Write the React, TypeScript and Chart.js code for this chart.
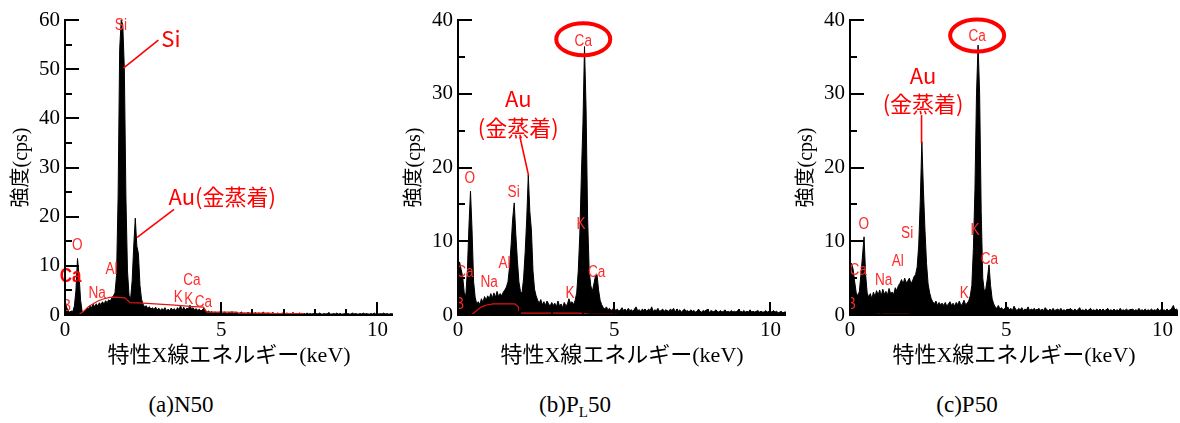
import React, { useEffect, useRef } from 'react';
import { Chart, registerables } from 'chart.js';

Chart.register(...registerables);

// ---------- data ----------
const E_STEP = 0.05; // keV per channel
const X_MAX = 10.5;
const X_TICKS = [0, 5, 10];
const X_MINOR_TICKS = [1, 2, 3, 4, 6, 7, 8, 9];
const Y_TICKS_A = [0, 10, 20, 30, 40, 50, 60];
const Y_MINOR_A = [5, 15, 25, 35, 45, 55];
const Y_TICKS_BC = [0, 10, 20, 30, 40];
const Y_MINOR_BC = [5, 15, 25, 35];

const X_TITLE = '特性X線エネルギー(keV)';
const Y_TITLE = '強度(cps)';

// (a) N50 counts per channel, 0.00 .. 10.50 keV
const SPECTRUM_A = [
  3.0, 1.6, 0.9, 0.6, 0.8, 0.7, 1.8, 5.0, 11.5, 8.0, 3.0, 0.6, 0.5, 0.9, 1.4, 1.2, 1.9, 1.5, 2.2, 1.7,
  2.3, 1.8, 2.5, 2.1, 2.7, 2.2, 2.9, 2.5, 3.1, 2.8, 3.5, 3.9, 4.5, 8.0, 24, 54, 60, 59, 50, 24,
  9.0, 4.0, 3.3, 7.0, 14, 19.7, 14, 12.5, 6.0, 3.2, 2.2, 1.6, 1.9, 1.3, 1.7, 1.2, 1.5, 1.1, 1.6, 1.0,
  1.4, 0.9, 1.3, 1.0, 1.5, 0.8, 1.2, 0.9, 1.4, 1.0, 1.3, 0.8, 1.5, 1.1, 1.9, 0.9, 1.6, 1.0, 1.4, 1.2,
  2.0, 1.2, 1.5, 1.0, 1.3, 0.9, 1.2, 0.8, 1.1, 1.4, 0.9, 0.6, 0.8, 0.5, 0.7, 0.4, 0.6, 0.5, 0.4, 0.6,
  0.5, 0.3, 0.6, 0.4, 0.3, 0.5, 0.4, 0.7, 0.3, 0.4, 0.5, 0.3, 0.4, 0.6, 0.3, 0.4, 0.3, 0.5, 0.4, 0.3,
  0.4, 0.3, 0.5, 0.2, 0.4, 0.3, 0.3, 0.6, 0.2, 0.3, 0.4, 0.2, 0.3, 0.5, 0.3, 0.2, 0.4, 0.3, 0.2, 0.4,
  0.3, 0.2, 0.4, 0.3, 0.2, 0.3, 0.5, 0.2, 0.3, 0.2, 0.4, 0.3, 0.2, 0.3, 0.2, 0.4, 0.2, 0.3, 0.2, 0.3,
  0.2, 0.3, 0.2, 0.4, 0.2, 0.2, 0.3, 0.2, 0.3, 0.5, 0.2, 0.2, 0.3, 0.2, 0.4, 0.2, 0.3, 0.2, 0.2, 0.3,
  0.2, 0.3, 0.2, 0.2, 0.4, 0.2, 0.3, 0.2, 0.2, 0.3, 0.2, 0.4, 0.2, 0.3, 0.2, 0.2, 0.3, 0.2, 0.4, 0.2,
  0.3, 0.2, 0.3, 0.2, 0.4, 0.2, 0.3, 0.2, 0.2, 0.3, 0.2,
];

// (b) PL50
const SPECTRUM_B = [
  6.8, 7.2, 6.2, 5.2, 3.0, 2.6, 6.0, 12, 16.8, 11.5, 4.5, 2.4, 1.5, 1.8, 1.4, 2.2, 1.7, 2.5, 2.0, 2.6,
  2.2, 2.9, 2.3, 3.0, 2.4, 3.2, 2.5, 2.9, 2.6, 3.1, 3.4, 3.8, 4.5, 6.5, 9.5, 13, 15.2, 11, 7.5, 4.5,
  3.2, 3.0, 5.0, 8.5, 13, 19, 14, 11.5, 6.0, 3.5, 2.6, 2.0, 1.6, 2.1, 1.4, 1.8, 1.3, 1.9, 1.5, 1.2,
  1.7, 1.3, 1.6, 1.1, 1.9, 1.2, 1.5, 1.0, 1.7, 1.3, 1.4, 2.2, 1.6, 1.8, 1.4, 2.0, 3.0, 6.0, 11, 19,
  26, 36.4, 28, 13, 6.0, 4.0, 3.2, 4.2, 5.3, 5.5, 3.4, 2.0, 1.4, 1.0, 0.8, 1.1, 0.7, 0.9, 0.6, 0.8,
  0.9, 0.6, 0.8, 0.5, 0.7, 1.0, 0.6, 0.8, 0.5, 0.9, 0.6, 0.7, 0.5, 0.8, 1.1, 0.6, 0.7, 0.5, 0.8, 0.6,
  0.7, 0.5, 0.8, 0.6, 1.1, 0.5, 0.7, 0.6, 0.9, 0.5, 0.6, 0.8, 0.5, 0.7, 0.6, 0.5, 0.8, 0.6, 0.9, 0.5,
  0.6, 0.5, 0.7, 0.4, 0.6, 0.8, 0.5, 0.6, 0.4, 0.7, 0.5, 0.6, 0.4, 0.5, 0.8, 0.5, 0.4, 0.6, 0.5, 0.7,
  0.5, 0.4, 0.6, 0.5, 0.4, 0.7, 0.5, 0.4, 0.6, 0.4, 0.5, 0.7, 0.4, 0.5, 0.4, 0.6, 0.4, 0.5, 0.4, 0.6,
  0.4, 0.5, 0.4, 0.6, 0.4, 0.5, 0.4, 0.7, 0.4, 0.5, 0.4, 0.5, 0.6, 0.4, 0.5, 0.4, 0.4, 0.6, 0.4, 0.5,
  0.5, 0.4, 0.6, 0.4, 0.5, 0.3, 0.4, 0.5, 0.3, 0.4, 0.4,
];

// (c) P50
const SPECTRUM_C = [
  6.5, 7.0, 6.2, 4.5, 3.0, 2.6, 3.2, 5.5, 8.0, 10.6, 5.5, 3.0, 2.4, 2.9, 2.2, 3.1, 2.5, 3.3, 2.7, 3.4,
  2.6, 3.5, 2.8, 3.2, 2.7, 3.6, 2.9, 3.1, 2.8, 3.7, 3.3, 4.0, 4.3, 4.8, 4.2, 5.0, 4.4, 4.6, 5.0, 4.3,
  4.6, 5.2, 5.5, 6.5, 9.5, 15.5, 23.5, 17, 11.5, 7.0, 4.2, 3.0, 2.2, 1.8, 1.5, 1.9, 1.3, 1.7, 1.4, 1.6,
  1.3, 1.7, 1.2, 1.5, 1.8, 1.3, 1.6, 1.2, 1.7, 1.4, 1.9, 1.3, 1.5, 2.0, 1.4, 1.6, 1.9, 2.6, 4.0, 9.0,
  17, 30, 36.6, 30, 14, 5.0, 3.2, 3.6, 5.0, 6.8, 4.0, 2.2, 1.5, 1.1, 0.9, 1.3, 0.8, 1.0, 0.7, 0.9,
  0.8, 1.1, 0.7, 0.9, 0.6, 1.2, 0.8, 0.6, 0.9, 0.7, 1.0, 0.6, 0.8, 0.7, 1.1, 0.6, 0.8, 0.7, 0.9, 0.6,
  0.7, 0.9, 0.6, 0.8, 0.6, 1.0, 0.7, 0.6, 0.8, 0.6, 0.9, 0.6, 0.7, 0.8, 0.6, 0.9, 0.6, 0.7, 0.6, 0.8,
  0.6, 0.9, 0.7, 0.6, 0.8, 0.6, 0.7, 1.0, 0.6, 0.7, 0.6, 0.8, 0.6, 0.7, 0.9, 0.6, 0.7, 0.6, 0.8, 0.6,
  0.7, 0.6, 0.8, 0.6, 0.7, 0.9, 0.6, 0.7, 0.6, 0.8, 0.6, 0.7, 0.6, 0.9, 0.6, 0.7, 0.6, 0.8, 0.6, 0.7,
  0.6, 0.8, 0.6, 0.7, 0.6, 0.9, 0.6, 0.7, 0.6, 0.8, 0.6, 0.7, 0.6, 0.8, 0.6, 0.7, 0.6, 0.9, 0.6, 0.7,
  0.6, 0.7, 0.6, 0.8, 0.6, 0.7, 0.9, 1.3, 0.7, 0.8, 0.6,
];

// fitted background (red) [keV, cps]
const BKG_A = [
  [0.45, 0.1], [0.6, 0.8], [0.75, 1.7], [0.9, 2.3], [1.07, 2.9], [1.25, 3.3], [1.44, 3.6], [1.6, 3.65],
  [1.92, 3.5], [2.08, 2.5], [2.5, 2.4], [3.0, 2.2], [3.52, 2.0], [4.0, 1.75], [4.43, 1.6], [4.54, 0.6],
  [5.5, 0.6], [5.55, 0.4], [6.56, 0.4], [6.6, 0.3], [7.65, 0.3],
];
const BKG_B = [
  [0.44, 0.05], [0.6, 0.6], [0.75, 1.1], [0.92, 1.36], [1.13, 1.5], [1.82, 1.5], [1.93, 1.1], [1.98, 0.1],
  [2.0, 0.25], [3.9, 0.25], [4.2, 0.1], [5.1, 0.1],
];
const BKG_C = [[0.85, 0.1], [1.9, 0.1]];

// peak labels [text, keV, cps]
const PEAK_LABELS_A = [
  ['Si', 1.79, 58.9], ['O', 0.39, 14.2], ['Al', 1.49, 9.3], ['Na', 1.03, 4.4], ['Ca', 4.06, 6.95],
  ['K', 3.63, 3.6], ['K', 3.96, 3.05], ['Ca', 4.43, 2.5], ['B', 0.05, 1.8],
];
const PEAK_LABELS_B = [
  ['Ca', 4.01, 37.1], ['O', 0.38, 18.5], ['Si', 1.78, 16.6], ['Al', 1.49, 7.0], ['Na', 1.0, 4.4],
  ['K', 3.94, 12.2], ['K', 3.59, 2.9], ['Ca', 4.44, 5.7], ['Ca', 0.22, 5.7], ['B', 0.05, 1.4],
];
const PEAK_LABELS_C = [
  ['Ca', 4.07, 37.8], ['O', 0.44, 12.3], ['Si', 1.83, 11.1], ['Al', 1.53, 7.2], ['Na', 1.08, 4.6],
  ['K', 4.0, 11.4], ['K', 3.66, 2.85], ['Ca', 4.46, 7.5], ['Ca', 0.26, 6.0], ['B', 0.04, 1.4],
];

// callouts [text, keV, cps]
const CALLOUTS_A = [['Si', 3.39, 56.3], ['Au(金蒸着)', 5.03, 24.1]];
const CALLOUTS_B = [['Au', 1.93, 29.3], ['(金蒸着)', 1.93, 25.4]];
const CALLOUTS_C = [['Au', 2.34, 32.5], ['(金蒸着)', 2.34, 28.6]];
const BOLD_LABELS_A = [['Ca', 0.18, 7.9]];

// leader lines [keV1, cps1, keV2, cps2]
const LEADERS_A = [[2.99, 55.9, 1.87, 50.2], [3.49, 21.5, 2.31, 15.8]];
const LEADERS_B = [[1.98, 24.2, 2.26, 18.9]];
const LEADERS_C = [[2.29, 27.1, 2.29, 23.3]];

// circled peaks [keV, cps]
const CIRCLES_B = [[4.01, 37.4]];
const CIRCLES_C = [[4.07, 37.9]];

// ---------- styles ----------
const SERIF = '"Liberation Serif", "Noto Sans CJK JP", serif';
const RED = '#ff0000';
const LABEL_RED = '#ff2a2a';
const PANEL_W = 395;
const PANEL_H = 380;

type PanelCfg = {
  id: string;
  left: number;
  spectrum: number[];
  bkg: number[][];
  yMax: number;
  yTicks: number[];
  yMinor: number[];
  labels: any[];
  callouts: any[];
  bold: any[];
  leaders: number[][];
  circles: number[][];
};

const PANELS: PanelCfg[] = [
  { id: 'a', left: 0, spectrum: SPECTRUM_A, bkg: BKG_A, yMax: 60, yTicks: Y_TICKS_A, yMinor: Y_MINOR_A,
    labels: PEAK_LABELS_A, callouts: CALLOUTS_A, bold: BOLD_LABELS_A, leaders: LEADERS_A, circles: [] },
  { id: 'b', left: 393, spectrum: SPECTRUM_B, bkg: BKG_B, yMax: 40, yTicks: Y_TICKS_BC, yMinor: Y_MINOR_BC,
    labels: PEAK_LABELS_B, callouts: CALLOUTS_B, bold: [], leaders: LEADERS_B, circles: CIRCLES_B },
  { id: 'c', left: 785, spectrum: SPECTRUM_C, bkg: BKG_C, yMax: 40, yTicks: Y_TICKS_BC, yMinor: Y_MINOR_BC,
    labels: PEAK_LABELS_C, callouts: CALLOUTS_C, bold: [], leaders: LEADERS_C, circles: CIRCLES_C },
];

function makeOverlay(cfg: PanelCfg) {
  return {
    id: 'overlay_' + cfg.id,
    afterDatasetsDraw(chart: any) {
      const { ctx, chartArea: ca, scales } = chart;
      const px = (e: number) => scales.x.getPixelForValue(e);
      const py = (v: number) => scales.y.getPixelForValue(v);
      ctx.save();
      ctx.textAlign = 'center';
      ctx.textBaseline = 'middle';
      // small peak labels (clipped to plot area)
      ctx.save();
      ctx.beginPath();
      ctx.rect(ca.left, ca.top - 12, ca.right - ca.left, ca.bottom - ca.top + 12);
      ctx.clip();
      ctx.fillStyle = LABEL_RED;
      ctx.font = '16px "Liberation Sans", sans-serif';
      for (const [t, e, v] of cfg.labels) {
        ctx.save();
        ctx.translate(px(e), py(v));
        ctx.scale(0.85, 1);
        ctx.fillText(t, 0, 0);
        ctx.restore();
      }
      ctx.restore();
      // bold labels
      ctx.fillStyle = RED;
      ctx.font = 'bold 20px "Liberation Sans", sans-serif';
      for (const [t, e, v] of cfg.bold) {
        ctx.save();
        ctx.translate(px(e), py(v));
        ctx.scale(0.85, 1);
        ctx.fillText(t, 0, 0);
        ctx.restore();
      }
      // callouts
      ctx.font = '22px "Noto Sans CJK JP", sans-serif';
      for (const [t, e, v] of cfg.callouts) ctx.fillText(t, px(e), py(v));
      // leaders
      ctx.strokeStyle = RED;
      ctx.lineWidth = 1.6;
      for (const [e1, v1, e2, v2] of cfg.leaders) {
        ctx.beginPath();
        ctx.moveTo(px(e1), py(v1));
        ctx.lineTo(px(e2), py(v2));
        ctx.stroke();
      }
      // circles
      ctx.lineWidth = 4;
      for (const [e, v] of cfg.circles) {
        ctx.beginPath();
        ctx.ellipse(px(e), py(v), 27, 16, 0, 0, Math.PI * 2);
        ctx.stroke();
      }
      ctx.restore();
    },
    afterDraw(chart: any) {
      const { ctx, chartArea: ca, scales } = chart;
      const px = (e: number) => scales.x.getPixelForValue(e);
      const py = (v: number) => scales.y.getPixelForValue(v);
      const x0 = Math.round(ca.left);
      const y0 = Math.round(ca.bottom);
      ctx.save();
      ctx.strokeStyle = '#000';
      ctx.lineWidth = 2;
      ctx.beginPath();
      ctx.moveTo(x0, Math.round(py(cfg.yMax)) - 1);
      ctx.lineTo(x0, y0 + 1);
      ctx.moveTo(x0 - 1, y0);
      ctx.lineTo(ca.right, y0);
      for (const v of cfg.yTicks) {
        const y = Math.round(py(v));
        ctx.moveTo(x0, y);
        ctx.lineTo(x0 + 14, y);
      }
      for (const v of cfg.yMinor) {
        const y = Math.round(py(v));
        ctx.moveTo(x0, y);
        ctx.lineTo(x0 + 7, y);
      }
      for (const e of X_TICKS) {
        const x = Math.round(px(e));
        ctx.moveTo(x, y0);
        ctx.lineTo(x, y0 - 13);
      }
      for (const e of X_MINOR_TICKS) {
        const x = Math.round(px(e));
        ctx.moveTo(x, y0);
        ctx.lineTo(x, y0 - 6);
      }
      ctx.stroke();
      ctx.restore();
    },
  };
}

function Panel({ cfg }: { cfg: PanelCfg }) {
  const ref = useRef<HTMLCanvasElement | null>(null);
  useEffect(() => {
    if (!ref.current) return;
    const points = cfg.spectrum.map((v, i) => ({ x: Math.round(i * E_STEP * 100) / 100, y: v }));
    const bkgPoints = cfg.bkg.map(([e, v]) => ({ x: e, y: v }));
    const tickFont = { family: SERIF, size: 21 };
    const chart = new Chart(ref.current, {
      type: 'line',
      data: {
        datasets: [
          {
            data: bkgPoints,
            borderColor: 'rgb(225,20,20)',
            borderWidth: 1.2,
            pointRadius: 0,
            fill: false,
            tension: 0,
          },
          {
            data: points,
            borderColor: '#000',
            backgroundColor: '#000',
            borderWidth: 1,
            pointRadius: 0,
            fill: 'origin',
            tension: 0,
          },
        ],
      },
      options: {
        responsive: false,
        animation: false,
        events: [],
        layout: { padding: { left: 0, right: 2, top: 20, bottom: 0 } },
        plugins: { legend: { display: false }, tooltip: { enabled: false } },
        scales: {
          x: {
            type: 'linear',
            min: 0,
            max: X_MAX,
            afterBuildTicks: (s: any) => { s.ticks = X_TICKS.map((v) => ({ value: v })); },
            afterFit: (s: any) => { s.height = 65; },
            grid: { display: false, drawTicks: false },
            border: { display: false },
            ticks: { padding: 3, font: tickFont, color: '#000', maxRotation: 0, autoSkip: false },
            title: { display: true, text: X_TITLE, color: '#000', font: { family: SERIF, size: 22 }, padding: { top: 0, bottom: 11 } },
          },
          y: {
            type: 'linear',
            min: 0,
            max: cfg.yMax,
            afterBuildTicks: (s: any) => { s.ticks = cfg.yTicks.map((v) => ({ value: v })); },
            afterFit: (s: any) => { s.width = 65; },
            grid: { display: false, drawTicks: false },
            border: { display: false },
            ticks: { padding: 5, font: tickFont, color: '#000' },
            title: { display: true, text: Y_TITLE, color: '#000', font: { family: SERIF, size: 20 }, padding: { top: 10, bottom: 0 } },
          },
        },
      } as any,
      plugins: [makeOverlay(cfg)],
    });
    return () => chart.destroy();
  }, [cfg]);
  return (
    <div style={{ position: 'absolute', left: cfg.left, top: 0, width: PANEL_W, height: PANEL_H }}>
      <canvas ref={ref} width={PANEL_W} height={PANEL_H} style={{ display: 'block' }} />
    </div>
  );
}

const captionStyle: React.CSSProperties = {
  position: 'absolute',
  top: 391,
  width: 200,
  textAlign: 'center',
  fontFamily: SERIF,
  fontSize: 23,
  lineHeight: '28px',
  color: '#000',
  whiteSpace: 'nowrap',
};

export default function App() {
  return (
    <div style={{ position: 'absolute', left: 0, top: 0, width: 1180, height: 423, background: '#fff', overflow: 'hidden' }}>
      {PANELS.map((p) => <Panel key={p.id} cfg={p} />)}
      <div style={{ ...captionStyle, left: 181 - 100 }}>(a)N50</div>
      <div style={{ ...captionStyle, left: 575 - 100 }}>
        (b)P<span style={{ fontSize: 15, position: 'relative', top: 5 }}>L</span>50
      </div>
      <div style={{ ...captionStyle, left: 967 - 100 }}>(c)P50</div>
    </div>
  );
}
